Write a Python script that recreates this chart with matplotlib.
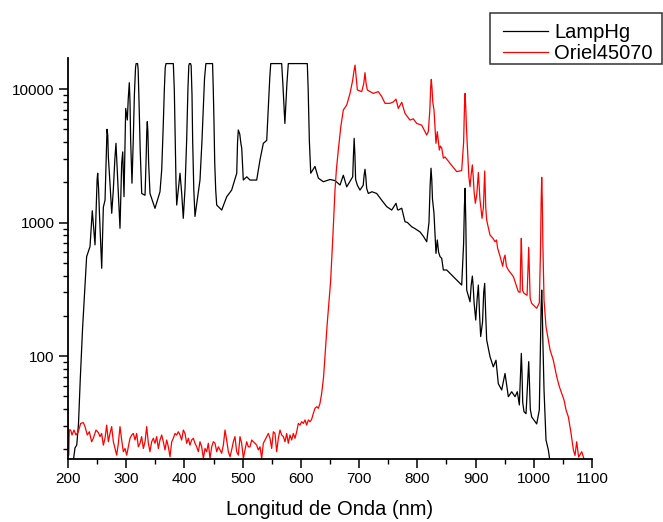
import matplotlib
matplotlib.use("Agg")
import matplotlib.pyplot as plt
from matplotlib.patches import Rectangle
from matplotlib.ticker import MultipleLocator, LogLocator, FixedLocator, NullFormatter

plt.rcParams['font.family'] = ['Liberation Sans', 'DejaVu Sans']

series_names = ["LampHg", "Oriel45070"]
x_label = "Longitud de Onda (nm)"
x_ticks = [200, 300, 400, 500, 600, 700, 800, 900, 1000, 1100]
y_ticks = [100, 1000, 10000]
y_tick_labels = ["100", "1000", "10000"]

lamp_nm = [200, 208, 212, 215, 218, 221, 225, 229, 232, 237.8, 241.7, 246.4, 248.5, 250, 251,
           252.5, 254, 257.9, 260.7, 263.6, 265.5, 267, 268.3, 269.3, 272.1, 275.1, 277.8,
           280.5, 282.4, 284, 285.3, 289.3, 292.2, 294, 296.2, 299.1, 301.9, 303.5, 305.3,
           306.5, 307.6, 309.9, 312, 314, 316, 317, 319.5, 320.5, 322, 324, 326.6, 332.3,
           334, 335.3, 336.2, 337.2, 338.5, 340.8, 349.4, 358, 361, 363.7, 365.5, 367, 368.3,
           380.9, 382.6, 384, 385.5, 386.7, 392.4, 395.3, 398, 401, 403.8, 406, 407.5, 408.5,
           410.5, 411.5, 413, 414.1, 416, 418.1, 426.7, 430, 432.4, 434.5, 436.8, 448.3,
           449.5, 450.8, 452, 453.7, 455.4, 464, 472.6, 481.1, 489.8, 491.2, 492.5, 495,
           497, 498.4, 501.1, 507, 512.6, 524.1, 529.8, 535.5, 541.3, 544.2, 546.5, 548.2,
           567, 569, 571, 572.5, 574, 576, 578.4, 611, 612.5, 614.5, 616.9, 624.2, 630,
           638.5, 650, 658.6, 667.2, 672.9, 678.7, 689, 690.3, 691.5, 692.8, 694, 697, 701.5,
           707, 708.8, 710.1, 711.5, 713, 715.8, 722, 730.2, 738.8, 747.4, 756, 763.4, 766,
           767.3, 773.2, 778.8, 783, 790.3, 796, 804.6, 810.2, 816.1, 820, 822, 823.5, 824.8,
           826, 828.6, 830.5, 832, 834.3, 836.5, 839, 841.8, 844.7, 850.4, 861.8, 867.6, 876.2,
           879.5, 880.8, 882, 883.3, 884.8, 890.5, 892.5, 894.5, 896, 897.5, 900.3, 902.5,
           904.8, 907, 908.8, 912, 914, 915.7, 917.5, 919.1, 924.8, 930.5, 935.1, 939.1,
           944.9, 950.6, 956.3, 962.1, 967.8, 971.7, 975.2, 977.5, 978.6, 979.8, 981, 983.2,
           986.7, 990, 991.3, 992.5, 994, 996.4, 1005, 1009.5, 1011.5, 1012.6, 1013.6, 1014.6,
           1015.6, 1017.6, 1021, 1025, 1028, 1030]
lamp_val = [14, 15, 20.5, 21.5, 31, 66, 160, 323, 555, 660, 1225, 680, 1300, 2100, 2340,
            1800, 1170, 454, 1300, 1472, 3000, 4990, 4500, 3100, 1969, 1172, 1750,
            3000, 3920, 2800, 2080, 906, 2775, 3380, 1560, 7160, 5860, 8500, 11150,
            8000, 4140, 1969, 4000, 9000, 14500, 15500, 15500, 14000, 8000, 3500, 1650, 1600,
            2800, 4800, 5690, 4800, 2800, 1650, 1277, 1700, 2500, 5520, 10000, 14500, 15500,
            15500, 9830, 4500, 2000, 1352, 2340, 1650, 1075, 1800, 4140, 10000, 15000, 15500,
            15500, 15000, 9000, 4140, 1800, 1110, 2080, 4000, 7370, 12000, 15500, 15500,
            10000, 5520, 2800, 1750, 1352, 1240, 1560, 1750, 2340, 4000, 4930, 4600,
            3900, 3600, 2080, 2200, 2080, 2080, 2950, 3920, 4120, 7370, 12000, 15500,
            15500, 11000, 7500, 5520, 7500, 11000, 15500, 15500, 10000, 4140, 2340, 2630, 2150,
            2020, 2100, 2060, 1910, 2260, 1850, 2200, 3200, 4275, 3200, 2100, 1900, 1750,
            1900, 2300, 2505, 2200, 1800, 1650, 1700, 1650, 1470, 1315, 1240, 1393, 1250,
            1240, 1280, 1014, 1000, 930, 900, 850, 790, 718, 1000, 1900, 2550, 2100,
            1500, 1172, 800, 587, 740, 600, 555, 540, 441, 441, 393, 371, 340,
            700, 1300, 1804, 1000, 312, 255, 340, 397, 330, 250, 186, 260,
            340, 200, 140, 180, 300, 350, 200, 132, 99, 83, 93, 62,
            55.7, 74, 49.6, 54, 49.6, 54, 43, 80, 104.7, 75, 45, 38.3,
            37, 70, 90.7, 65, 40, 35, 31, 39.4, 120, 230, 312, 230,
            130, 55.7, 23.5, 19.8, 16, 15]

oriel_nm = [200, 201, 202.3, 204.6, 206.9, 210.3, 213.7, 217.7, 221.8, 226.3, 229.2, 233.2, 236.6,
            240.6, 243.5, 248.1, 252.1, 255, 257.8, 260.7, 263.6, 266.4, 269.3, 272.1, 275,
            277.9, 280.7, 283.6, 286.5, 289.3, 292.2, 295, 297.9, 300.8, 303.6, 306.5, 309.4,
            312.2, 315.1, 317.9, 320.8, 323.7, 326.5, 329.4, 332.3, 335.1, 338, 340.8, 343.7,
            346.6, 349.4, 352.3, 355.2, 358, 360.9, 363.7, 366.6, 369.5, 372.3, 375.2, 378.1,
            380.9, 383.8, 386.6, 389.5, 392.4, 395.2, 398.1, 401, 403.8, 406.7, 409.5, 412.4,
            415.3, 418.1, 421, 423.9, 426.7, 429.6, 432.5, 435.3, 438.2, 441, 443.9, 446.8,
            449.6, 452.5, 455.4, 458.2, 461.1, 463.9, 466.8, 469.7, 472.5, 475.4, 478.3, 481.1,
            484, 486.8, 489.7, 492.6, 495.4, 498.3, 501.2, 504, 506.9, 509.7, 512.6, 515.5,
            518.3, 521.2, 524.1, 526.9, 529.8, 532.6, 535.5, 538.4, 541.2, 544.1, 547, 549.8,
            552.7, 555.5, 558.4, 561.3, 564.1, 567, 569.9, 572.7, 575.6, 578.4, 581.3, 584.2,
            587, 589.9, 592.8, 595.6, 598.5, 601.3, 604.2, 607.1, 609.9, 612.8, 615.7, 618.5,
            621.4, 624.2, 627.1, 630, 632.8, 635.7, 639, 642, 645, 648, 651, 655, 658.6, 661,
            664.3, 668.5, 672.9, 678.7, 684.4, 689, 691, 693, 694.8, 697, 704.5, 708, 710.1,
            712, 714.1, 724.4, 733, 738.8, 744.5, 753, 758.7, 763.4, 767.3, 773.2, 778.8,
            787.4, 793, 798.9, 807.5, 816.1, 818.9, 821.5, 823, 824, 825.3, 826.5, 828.6, 832,
            834.3, 837.8, 839.5, 842, 844.7, 847.5, 856, 867.6, 876.2, 879.5, 881, 882, 883.3,
            884.5, 886, 888.5, 890.5, 892.5, 894.5, 896, 897.5, 899.6, 902, 904.8, 907.5, 911.1,
            913.5, 915.7, 917.5, 919.1, 924.8, 930, 933.4, 936, 938, 942, 946.6, 948.8, 950.6,
            953, 956.3, 965, 973.5, 976.5, 977.6, 978.6, 979.7, 980.8, 983.2, 988.5, 990.2,
            991.3, 992.4, 993.8, 996.4, 1005, 1009.5, 1011.5, 1012.6, 1013.6, 1014.6, 1015.6,
            1017.6, 1021, 1028, 1033.6, 1039.4, 1043.9, 1048, 1052, 1055.4, 1059.4, 1064,
            1068, 1070.8, 1073.7, 1077, 1082.4, 1088, 1090]
oriel_val = [40, 18, 28, 27.9, 25.6, 27.9, 25.6, 27.1, 31.3, 31.7, 29.6, 25.6, 27.1,
             22.8, 24.2, 27.9, 26.7, 24.9, 26.3, 21.5, 24.2, 30.4, 22.8, 26.3, 29.6,
             22.8, 20.3, 18.1, 22.2, 29.6, 23.5, 19.2, 20.3, 18.1, 20.9, 24.2, 25.6,
             26.3, 23.5, 26.3, 20.9, 22.2, 24.9, 20.3, 22.8, 29.6, 22.2, 19.2, 22.8,
             24.2, 22.2, 24.9, 20.3, 23.5, 25.6, 22.8, 19.8, 23.5, 20.9, 17.6, 22.8,
             24.2, 26.3, 25.6, 27.1, 25.6, 23.5, 27.9, 26.3, 22.2, 24.2, 21.5, 23.5,
             24.2, 22.2, 20.9, 19.2, 22.8, 20.9, 17.1, 20.3, 19.2, 22.2, 17.1, 20.9,
             22.8, 22.2, 19.2, 20.9, 19.8, 18.7, 21.5, 27.9, 23.5, 19.2, 17.6, 19.8,
             22.8, 24.9, 19.2, 18.1, 24.9, 22.2, 17.1, 19.8, 22.8, 20.9, 20.9, 23.5,
             22.8, 22.2, 21.5, 19.8, 20.9, 17.1, 22.2, 23.5, 24.9, 26.3, 24.2, 20.3,
             27.1, 26.3, 19.2, 24.2, 27.9, 25.6, 24.9, 22.8, 26.3, 22.2, 25.6, 23.5,
             26.3, 24.2, 27.1, 31.3, 30.4, 32.2, 31.3, 33.2, 30.4, 33.2, 32.2, 33.6,
             37.2, 40.6, 41.7, 40.6, 44.2, 52.5, 70, 110, 170, 250, 360, 800, 1750, 2500,
             3490, 5200, 6970, 7590, 9270, 11670, 13500, 15100, 12500, 9830, 9560, 11000, 13250,
             11000, 9830, 9270, 9560, 8780, 7810, 7810, 8000, 8400, 7160, 7950, 6560,
             5850, 5980, 5520, 5360, 4520, 4800, 7000, 10500, 11800, 10000, 8000, 6970, 3920,
             4790, 3490, 3740, 3600, 3030, 3100, 2780, 2405, 2450, 4000, 7500, 9270, 7000,
             5000, 3700, 2200, 1855, 2300, 2700, 2200, 1700, 1393, 1600, 2370, 1500, 1075,
             1300, 2430, 1300, 1040, 806, 760, 718, 740, 640, 560, 470, 540, 570,
             470, 441, 393, 303, 300, 550, 761, 500, 310, 295, 285, 480,
             652, 450, 270, 248, 228, 250, 600, 1400, 2180, 1500, 700,
             263, 166, 111, 93, 70, 59, 52.5, 46.8, 39.4, 35, 26.4,
             19.8, 18, 22.8, 17.5, 19.2, 16, 16]

W, H = 663, 522
fig = plt.figure(figsize=(W / 100, H / 100), dpi=100)
ax = fig.add_axes([68 / W, 1 - 459 / H, (592 - 68) / W, (459 - 58) / H])

l1, = ax.plot(lamp_nm, lamp_val, color='black', lw=0.9, label=series_names[0])
l2, = ax.plot(oriel_nm, oriel_val, color='#ff0000', lw=0.9, label=series_names[1])

ax.set_yscale('log')
ax.set_xlim(200, 1100)
ax.set_ylim(16.93, 17070)

ax.xaxis.set_major_locator(FixedLocator(x_ticks))
ax.xaxis.set_minor_locator(MultipleLocator(50))
ax.yaxis.set_major_locator(FixedLocator(y_ticks))
ax.set_yticklabels(y_tick_labels)
ax.yaxis.set_minor_locator(LogLocator(base=10, subs=range(2, 10)))
ax.yaxis.set_minor_formatter(NullFormatter())

for s in ['top', 'right']:
    ax.spines[s].set_visible(False)
for s in ['left', 'bottom']:
    ax.spines[s].set_linewidth(1.3)

ax.tick_params(axis='both', which='major', direction='out', length=6.5, width=1.1,
               labelsize=11, pad=3)
ax.tick_params(axis='both', which='minor', direction='out', length=3.5, width=1.0)

ax.set_xlabel(x_label, fontsize=14.5, labelpad=10)

# legend: entries without frame, plus a separate box around them
leg = fig.legend(handles=[l1, l2], loc='upper left',
                 bbox_to_anchor=(496.7 / W, 1 - 16.7 / H), borderaxespad=0,
                 fontsize=14.5, handlelength=2.27, handletextpad=0.3,
                 labelspacing=0.1, borderpad=0.3, frameon=False)
fig.patches.append(Rectangle((490 / W, 1 - 64 / H), 172 / W, 51.3 / H,
                             transform=fig.transFigure, fill=False,
                             edgecolor='#333333', linewidth=1.1))

fig.savefig('out.png', dpi=100)
